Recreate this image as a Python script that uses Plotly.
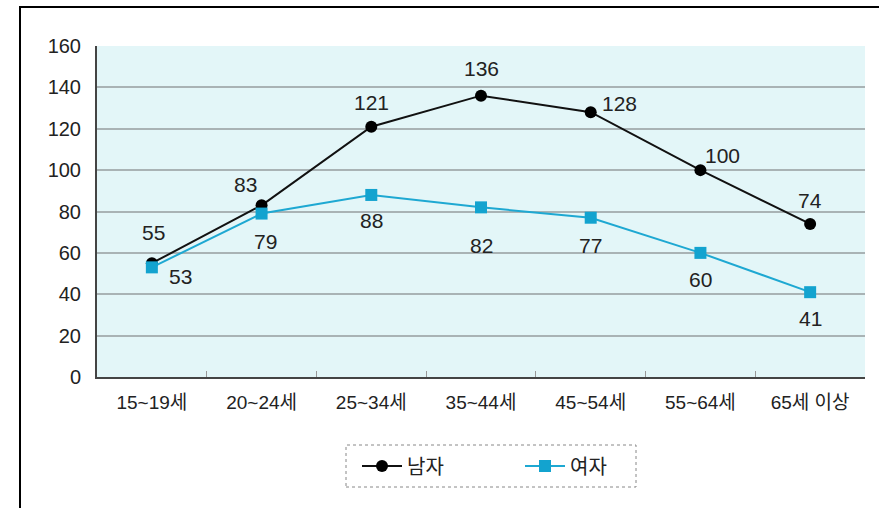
import plotly.graph_objects as go

categories = ["15~19세", "20~24세", "25~34세", "35~44세", "45~54세", "55~64세", "65세 이상"]
male = [55, 83, 121, 136, 128, 100, 74]
female = [53, 79, 88, 82, 77, 60, 41]
yticks = [0, 20, 40, 60, 80, 100, 120, 140, 160]

# label offsets in pixels (dx, dy; dy positive = up)
male_off = [(2, 31), (-16, 21), (0, 24), (0, 27), (29, 9), (22, 15), (0, 23)]
female_off = [(29, -9), (4, -28), (0, -26), (0, -38), (0, -28), (0, -27), (0, -26)]

FONT = "Liberation Sans, Noto Sans CJK KR"
W, H = 879, 508
L, R, T, B = 97, 14, 46, 131
pw, ph = W - L - R, H - T - B

def px(x):
    return (x - L) / pw

def py(y):
    return (H - B - y) / ph

fig = go.Figure()
fig.add_trace(go.Scatter(
    x=categories, y=male, name="남자", mode="lines+markers",
    line=dict(color="#111111", width=2),
    marker=dict(symbol="circle", size=12, color="#000000"),
))
fig.add_trace(go.Scatter(
    x=categories, y=female, name="여자", mode="lines+markers",
    line=dict(color="#1ea8d2", width=2),
    marker=dict(symbol="square", size=12, color="#13a3cf"),
))

for vals, offs in ((male, male_off), (female, female_off)):
    for c, v, (dx, dy) in zip(categories, vals, offs):
        fig.add_annotation(x=c, y=v, text=str(v), showarrow=False,
                           xshift=dx, yshift=dy,
                           font=dict(family=FONT, size=21, color="#222222"))

# outer frame
fig.add_shape(type="rect", xref="paper", yref="paper",
              x0=px(20), x1=px(900), y0=py(530), y1=py(7),
              line=dict(color="black", width=2), layer="below")
# legend box (dotted)
fig.add_shape(type="rect", xref="paper", yref="paper",
              x0=px(346), x1=px(636), y0=py(487), y1=py(445),
              line=dict(color="#888888", width=1, dash="dot"))

fig.update_layout(
    width=W, height=H,
    margin=dict(l=L, r=R, t=T, b=B),
    paper_bgcolor="white",
    plot_bgcolor="#e3f6f8",
    font=dict(family=FONT, size=20, color="#222222"),
    showlegend=True,
    legend=dict(orientation="h", x=px(520), xanchor="center", y=py(466), yanchor="middle",
                font=dict(size=20, family=FONT), bgcolor="rgba(0,0,0,0)",
                itemwidth=40, entrywidthmode="pixels", entrywidth=108),
    xaxis=dict(type="category", range=[-0.5, 6.5], showgrid=False,
               showline=True, linecolor="#444444", linewidth=2,
               ticks="inside", ticklen=6, tickcolor="#999999", tickson="boundaries",
               tickfont=dict(size=19, family=FONT), ticklabelstandoff=7, fixedrange=True),
    yaxis=dict(range=[0, 160], tickvals=yticks, showgrid=True, gridcolor="#a9b3b5", gridwidth=2,
               showline=True, linecolor="#444444", linewidth=2, ticks="", zeroline=False,
               tickfont=dict(size=20, family=FONT), ticklabelstandoff=10),
)

fig.write_html("out.html", config={"displayModeBar": False},
               post_script="document.body.style.margin='0';document.body.style.padding='0';")
